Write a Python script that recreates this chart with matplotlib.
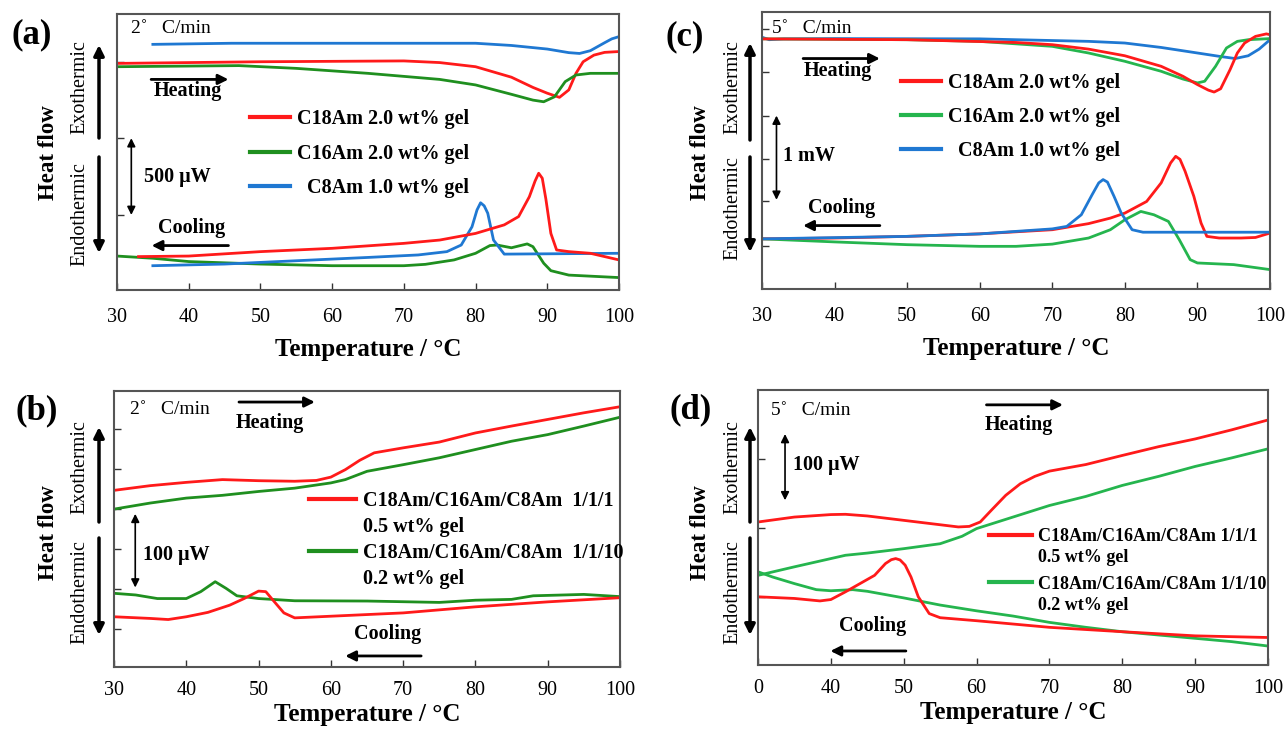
import matplotlib
matplotlib.use("Agg")
import matplotlib.pyplot as plt
from matplotlib.lines import Line2D

plt.rcParams['font.family'] = ['Liberation Serif', 'DejaVu Serif']

# x ticks (temperature, deg C)
temp_ticks = [30, 40, 50, 60, 70, 80, 90, 100]

# ---- (a) 2 C/min, single gels ----
a_heat_c8_t = [35, 46, 80, 85, 90, 93, 94.5, 96, 98, 99, 100]
a_heat_c8 = [89.0, 89.4, 89.4, 88.6, 87.3, 86.0, 85.7, 86.7, 89.6, 91.0, 91.8]
a_heat_c18_t = [30, 50, 70, 75, 80, 85, 88, 90, 91.7, 93, 94, 95, 96.5, 98, 100]
a_heat_c18 = [82.1, 82.7, 83.0, 82.4, 80.9, 77.1, 73.4, 71.3, 69.8, 72.5, 78.5, 82.7, 85.1, 86.1, 86.4]
a_heat_c16_t = [30, 47, 55, 65, 75, 80, 85, 88, 89.5, 91, 92.5, 94, 96, 100]
a_heat_c16 = [80.9, 81.3, 80.3, 78.5, 76.3, 74.3, 70.9, 68.8, 68.2, 70.0, 75.5, 77.9, 78.5, 78.5]
a_cool_c18_t = [33, 40, 50, 60, 70, 75, 80, 84, 86, 87.5, 88.3, 88.8, 89.3, 89.8, 90.5, 91.3, 93, 96, 100]
a_cool_c18 = [12.1, 12.3, 13.9, 15.1, 16.9, 18.1, 20.5, 23.6, 26.6, 33.8, 39.5, 42.3, 40.5, 33.0, 20.5, 14.5, 13.9, 13.3, 10.9]
a_cool_c8_t = [35, 45, 55, 65, 72, 76, 78, 79.5, 80.2, 80.7, 81.2, 81.7, 82.5, 84, 100]
a_cool_c8 = [8.8, 9.4, 10.6, 11.8, 12.7, 13.9, 16.3, 22.9, 29.0, 31.6, 30.5, 27.8, 18.1, 13.0, 13.3]
a_cool_c16_t = [30, 35, 40, 50, 60, 70, 73, 77, 80, 82, 83, 85, 87.2, 88, 89.5, 90.5, 93, 100]
a_cool_c16 = [12.3, 11.5, 10.3, 9.4, 8.8, 8.8, 9.3, 10.9, 13.3, 16.1, 16.3, 15.3, 16.7, 15.7, 9.7, 7.0, 5.4, 4.5]
a_yticks = [27.2, 55.1, 82.6]

# ---- (c) 5 C/min, single gels ----
c_heat_c8_t = [30, 31, 33, 40, 60, 75, 80, 85, 90, 93, 95.2, 97, 98.5, 100]
c_heat_c8 = [90.9, 90.0, 90.3, 90.4, 90.3, 89.4, 88.8, 87.2, 85.2, 84.0, 83.2, 84.2, 86.6, 90.0]
c_heat_c18_t = [30, 50, 65, 70, 75, 80, 85, 88, 90, 91.5, 92.3, 93.2, 94.5, 95.5, 96.5, 98, 99.5, 100]
c_heat_c18 = [90.3, 90.0, 89.0, 88.2, 86.6, 84.2, 80.4, 76.8, 73.8, 71.8, 71.1, 72.3, 79.2, 85.2, 88.8, 91.2, 92.1, 91.8]
c_heat_c16_t = [30, 50, 60, 70, 75, 80, 85, 88, 90, 91, 92.5, 94, 95.5, 97, 100]
c_heat_c16 = [90.3, 90.0, 89.4, 87.6, 85.2, 82.2, 78.6, 75.8, 74.4, 75.0, 80.4, 87.0, 89.4, 90.0, 90.4]
c_cool_c18_t = [30, 40, 50, 60, 70, 75, 78, 80, 83, 85, 86.3, 87, 87.6, 88.3, 89.5, 90.5, 91.3, 93, 96, 98, 100]
c_cool_c18 = [18.1, 18.4, 19.0, 19.9, 21.4, 23.6, 25.6, 27.4, 31.6, 38.3, 45.5, 47.9, 46.8, 42.5, 33.5, 23.8, 19.0, 18.4, 18.4, 18.6, 20.2]
c_cool_c8_t = [30, 50, 60, 70, 72, 74, 75.5, 76.4, 77, 77.6, 78.5, 79.5, 81, 82.5, 100]
c_cool_c8 = [18.1, 19.0, 19.9, 21.7, 22.6, 26.8, 34.1, 38.3, 39.5, 38.6, 33.5, 27.4, 21.4, 20.5, 20.5]
c_cool_c16_t = [30, 40, 50, 60, 65, 70, 75, 78, 80, 82.2, 84, 86, 87.5, 89, 90, 95, 100]
c_cool_c16 = [18.1, 17.0, 16.0, 15.4, 15.4, 16.2, 18.4, 21.4, 25.0, 28.0, 26.8, 24.4, 17.8, 10.6, 9.4, 8.8, 7.0]
c_yticks = [15.7, 31.6, 46.9, 62.5, 78.5, 93.9]

# ---- (b) 2 C/min, mixed gels ----
b_heat_1_t = [30, 35, 40, 45, 50, 55, 58, 60, 62, 64, 66, 70, 75, 80, 85, 90, 95, 100]
b_heat_1 = [64.0, 65.7, 66.9, 67.9, 67.5, 67.3, 67.6, 68.8, 71.5, 74.9, 77.6, 79.4, 81.5, 84.8, 87.3, 89.7, 92.1, 94.3]
b_heat_10_t = [30, 35, 40, 45, 50, 55, 60, 62, 65, 70, 75, 80, 85, 90, 95, 100]
b_heat_10 = [57.2, 59.4, 61.2, 62.2, 63.6, 64.8, 66.7, 67.9, 70.9, 73.3, 75.8, 78.8, 81.8, 84.2, 87.3, 90.5]
b_cool_1_t = [30, 35, 37.5, 40, 43, 46, 48, 50, 51, 52, 53.5, 55, 60, 70, 80, 90, 100]
b_cool_1 = [18.2, 17.6, 17.2, 18.2, 19.8, 22.4, 24.8, 27.5, 27.3, 24.2, 19.6, 17.8, 18.4, 19.6, 21.8, 23.6, 25.1]
b_cool_10_t = [30, 33, 36, 40, 42, 44, 45.5, 47, 50, 55, 65, 75, 80, 85, 88, 95, 100]
b_cool_10 = [26.7, 26.1, 24.8, 24.8, 27.3, 30.9, 28.5, 25.8, 24.8, 24.0, 23.9, 23.4, 24.2, 24.5, 25.8, 26.3, 25.5]
b_yticks = [13.9, 28.1, 42.6, 57.1, 71.6, 86.1]

# ---- (d) 5 C/min, mixed gels ----
d_heat_1_t = [30, 35, 40, 42, 45, 50, 55, 57.5, 59, 60.5, 62, 64, 66, 68, 70, 75, 80, 85, 90, 95, 100]
d_heat_1 = [52.0, 53.8, 54.7, 54.8, 54.2, 52.6, 51.0, 50.2, 50.4, 52.0, 56.2, 61.7, 65.9, 68.6, 70.5, 72.9, 76.2, 79.4, 82.2, 85.5, 89.1]
d_heat_10_t = [30, 35, 40, 42, 45, 50, 55, 58, 60, 65, 70, 75, 80, 85, 90, 95, 100]
d_heat_10 = [32.6, 35.7, 38.7, 39.9, 40.7, 42.3, 44.1, 46.8, 49.6, 53.8, 58.0, 61.3, 65.3, 68.6, 72.2, 75.3, 78.6]
d_cool_1_t = [30, 35, 38.5, 40, 42, 44, 46, 47.5, 48.3, 48.9, 49.5, 50.2, 51, 52, 53.5, 55, 60, 65, 70, 80, 90, 100]
d_cool_1 = [24.8, 24.2, 23.3, 23.8, 26.6, 29.6, 32.6, 36.9, 38.3, 38.7, 38.2, 36.3, 32.0, 24.8, 18.7, 17.2, 16.1, 14.9, 13.7, 12.1, 10.6, 10.0]
d_cool_10_t = [30, 32, 35, 38, 40, 43, 45, 50, 55, 60, 65, 70, 75, 80, 85, 90, 95, 100]
d_cool_10 = [33.9, 32.0, 29.6, 27.4, 27.0, 27.4, 26.8, 24.4, 21.8, 19.7, 17.8, 15.5, 13.7, 12.1, 10.9, 9.7, 8.5, 6.9]
d_yticks = [24.6, 49.7, 74.8]

labels_single = ['C18Am 2.0 wt% gel', 'C16Am 2.0 wt% gel', '  C8Am 1.0 wt% gel']
labels_mix_b = ['C18Am/C16Am/C8Am  1/1/1', '0.5 wt% gel', 'C18Am/C16Am/C8Am  1/1/10', '0.2 wt% gel']
labels_mix_d = ['C18Am/C16Am/C8Am 1/1/1', '0.5 wt% gel', 'C18Am/C16Am/C8Am 1/1/10', '0.2 wt% gel']

RED = '#ff1a1a'
GREEN_DK = '#1f8f1f'
GREEN_LT = '#25b54e'
BLUE = '#1f78d2'

W, H = 1287, 739
fig = plt.figure(figsize=(12.87, 7.39), dpi=100)


def add_ax(l, t, r, b):
    return fig.add_axes([l / W, 1 - b / H, (r - l) / W, (b - t) / H])


def setup(ax, yticks, xlabels, pad, labelpad):
    ax.set_xlim(30, 100)
    ax.set_ylim(0, 100)
    ax.set_xticks(temp_ticks)
    ax.set_xticklabels(xlabels)
    ax.set_yticks(yticks)
    ax.set_yticklabels([])
    ax.tick_params(direction='in', length=5, width=1, color='#333333', labelsize=14.5, pad=pad)
    for s in ax.spines.values():
        s.set_color('#555555')
        s.set_linewidth(1.5)
    ax.set_xlabel('Temperature / °C', fontsize=18, fontweight='bold', labelpad=labelpad)


def arrow(ax, x0, y0, x1, y1, style='-|>', lw=2, ms=15):
    ax.annotate('', xy=(x1, y1), xytext=(x0, y0), xycoords='axes fraction',
                arrowprops=dict(arrowstyle=style, lw=lw, color='black', mutation_scale=ms,
                                shrinkA=0, shrinkB=0))


def fig_arrow(x, y0, y1):
    fig.add_artist(matplotlib.patches.FancyArrowPatch(
        (x / W, 1 - y0 / H), (x / W, 1 - y1 / H), transform=fig.transFigure,
        arrowstyle='-|>', lw=2.5, color='black', mutation_scale=15, shrinkA=0, shrinkB=0))


def side_labels(letter, lx, ly, hx, hy, ex, exo_c, endo_c, arx, exo_arr, endo_arr):
    fig.text(lx / W, 1 - ly / H, letter, fontsize=25, fontweight='bold', ha='center', va='center')
    fig.text(hx / W, 1 - hy / H, 'Heat flow', fontsize=16.5, fontweight='bold', rotation=90,
             ha='center', va='center')
    fig.text(ex / W, 1 - exo_c / H, 'Exothermic', fontsize=14.5, rotation=90, ha='center', va='center')
    fig.text(ex / W, 1 - endo_c / H, 'Endothermic', fontsize=14.5, rotation=90, ha='center', va='center')
    fig_arrow(arx, exo_arr[0], exo_arr[1])
    fig_arrow(arx, endo_arr[0], endo_arr[1])


def legend(ax, handles, labels, anchor, size, spacing, hl):
    return ax.legend(handles, labels, loc='upper left', bbox_to_anchor=anchor, frameon=False,
                     borderpad=0, borderaxespad=0, handlelength=hl, handletextpad=0.35,
                     labelspacing=spacing, prop={'weight': 'bold', 'size': size})


def bold_text(ax, x, y, s):
    ax.text(x, y, s, transform=ax.transAxes, fontsize=14.5, fontweight='bold', va='center')


# ================= (a) =================
ax = add_ax(117, 14, 619, 290)
setup(ax, a_yticks, [str(t) for t in temp_ticks], 13, 8)
ax.plot(a_heat_c8_t, a_heat_c8, color=BLUE, lw=2)
ax.plot(a_heat_c18_t, a_heat_c18, color=RED, lw=2)
ax.plot(a_heat_c16_t, a_heat_c16, color=GREEN_DK, lw=2)
ax.plot(a_cool_c16_t, a_cool_c16, color=GREEN_DK, lw=2)
ax.plot(a_cool_c8_t, a_cool_c8, color=BLUE, lw=2)
ax.plot(a_cool_c18_t, a_cool_c18, color=RED, lw=2)
h = [Line2D([], [], color=RED, lw=3), Line2D([], [], color=GREEN_DK, lw=3), Line2D([], [], color=BLUE, lw=3)]
legend(ax, h, labels_single, (0.265, 0.655), 14.5, 0.72, 2.0)
ax.text(0.027, 0.948, '2˚   C/min', transform=ax.transAxes, fontsize=14, va='center')
arrow(ax, 0.068, 0.763, 0.222, 0.763)
bold_text(ax, 0.073, 0.722, 'Heating')
arrow(ax, 0.0285, 0.55, 0.0285, 0.272, style='<|-|>', lw=1.2, ms=12)
bold_text(ax, 0.053, 0.411, '500 μW')
bold_text(ax, 0.082, 0.226, 'Cooling')
arrow(ax, 0.222, 0.161, 0.069, 0.161)
side_labels('(a)', 32, 35, 48, 153, 80, 87, 214, 99, (138, 45), (157, 253))

# ================= (c) =================
ax = add_ax(762, 12, 1270, 289)
setup(ax, c_yticks, [str(t) for t in temp_ticks], 13, 8)
ax.plot(c_heat_c8_t, c_heat_c8, color=BLUE, lw=2)
ax.plot(c_heat_c16_t, c_heat_c16, color=GREEN_LT, lw=2)
ax.plot(c_heat_c18_t, c_heat_c18, color=RED, lw=2)
ax.plot(c_cool_c16_t, c_cool_c16, color=GREEN_LT, lw=2)
ax.plot(c_cool_c18_t, c_cool_c18, color=RED, lw=2)
ax.plot(c_cool_c8_t, c_cool_c8, color=BLUE, lw=2)
h = [Line2D([], [], color=RED, lw=3), Line2D([], [], color=GREEN_LT, lw=3), Line2D([], [], color=BLUE, lw=3)]
legend(ax, h, labels_single, (0.273, 0.78), 14.5, 0.7, 2.0)
ax.text(0.019, 0.942, '5˚   C/min', transform=ax.transAxes, fontsize=14, va='center')
arrow(ax, 0.081, 0.832, 0.232, 0.832)
bold_text(ax, 0.083, 0.786, 'Heating')
arrow(ax, 0.0285, 0.626, 0.0285, 0.322, style='<|-|>', lw=1.2, ms=12)
bold_text(ax, 0.041, 0.481, '1 mW')
bold_text(ax, 0.09, 0.292, 'Cooling')
arrow(ax, 0.232, 0.229, 0.081, 0.229)
side_labels('(c)', 685, 37, 701, 153, 733, 87, 208, 750, (140, 43), (157, 252))

# ================= (b) =================
ax = add_ax(114, 391, 620, 667)
setup(ax, b_yticks, [str(t) for t in temp_ticks], 10, 2)
ax.plot(b_heat_10_t, b_heat_10, color=GREEN_DK, lw=2)
ax.plot(b_heat_1_t, b_heat_1, color=RED, lw=2)
ax.plot(b_cool_10_t, b_cool_10, color=GREEN_DK, lw=2)
ax.plot(b_cool_1_t, b_cool_1, color=RED, lw=2)
h = [Line2D([], [], color=RED, lw=3), Line2D([], [], color='none'),
     Line2D([], [], color=GREEN_DK, lw=3), Line2D([], [], color='none')]
legend(ax, h, labels_mix_b, (0.386, 0.637), 14.5, 0.3, 2.3)
ax.text(0.032, 0.933, '2˚   C/min', transform=ax.transAxes, fontsize=14, va='center')
arrow(ax, 0.247, 0.96, 0.397, 0.96)
bold_text(ax, 0.241, 0.885, 'Heating')
arrow(ax, 0.042, 0.555, 0.042, 0.288, style='<|-|>', lw=1.2, ms=12)
bold_text(ax, 0.058, 0.406, '100 μW')
bold_text(ax, 0.474, 0.121, 'Cooling')
arrow(ax, 0.607, 0.04, 0.457, 0.04)
side_labels('(b)', 37, 411, 49, 533, 80, 467, 592, 99, (522, 427), (538, 635))

# ================= (d) =================
ax = add_ax(758, 390, 1268, 665)
setup(ax, d_yticks, ['0'] + [str(t) for t in temp_ticks[1:]], 10, 2)
ax.plot(d_heat_10_t, d_heat_10, color=GREEN_LT, lw=2)
ax.plot(d_heat_1_t, d_heat_1, color=RED, lw=2)
ax.plot(d_cool_10_t, d_cool_10, color=GREEN_LT, lw=2)
ax.plot(d_cool_1_t, d_cool_1, color=RED, lw=2)
h1 = [Line2D([], [], color=RED, lw=3), Line2D([], [], color='none')]
h2 = [Line2D([], [], color=GREEN_LT, lw=3), Line2D([], [], color='none')]
leg1 = legend(ax, h1, labels_mix_d[:2], (0.452, 0.497), 13, 0.22, 2.4)
ax.add_artist(leg1)
legend(ax, h2, labels_mix_d[2:], (0.452, 0.325), 13, 0.22, 2.4)
ax.text(0.025, 0.925, '5˚   C/min', transform=ax.transAxes, fontsize=14, va='center')
arrow(ax, 0.448, 0.946, 0.598, 0.946)
bold_text(ax, 0.444, 0.874, 'Heating')
arrow(ax, 0.053, 0.84, 0.053, 0.599, style='<|-|>', lw=1.2, ms=12)
bold_text(ax, 0.069, 0.726, '100 μW')
bold_text(ax, 0.158, 0.141, 'Cooling')
arrow(ax, 0.29, 0.051, 0.142, 0.051)
side_labels('(d)', 691, 410, 701, 533, 733, 467, 592, 750, (522, 427), (538, 635))

fig.savefig('out.png', dpi=100)
